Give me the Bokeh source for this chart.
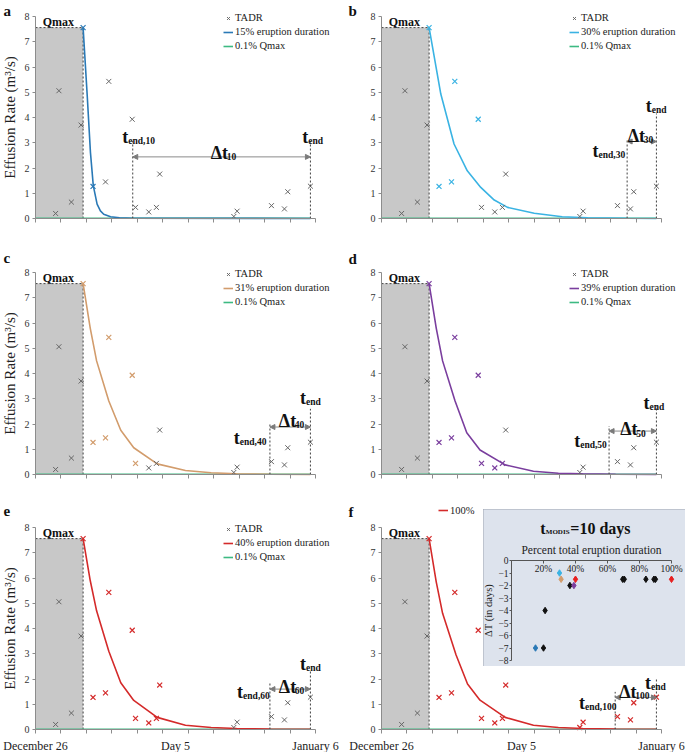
from bokeh.plotting import figure
from bokeh.models import (Range1d, FixedTicker, Legend, LegendItem, Label, LabelSet,
                          Arrow, NormalHead, GridBox, ColumnDataSource)
from bokeh.embed import file_html
from bokeh.resources import INLINE

FONT = "Liberation Serif"

# ---------------- data ----------------
day_ticks = list(range(12))
date_tick_pos = [0, 5.5, 11]
date_tick_labels = ["December 26", "Day 5", "January 6"]
rate_ticks = [0, 1, 2, 3, 4, 5, 6, 7, 8]

# TADR measurements (days since December 26, m3/s)
tadr_day = [0.79, 0.92, 1.41, 1.79, 1.87, 2.26, 2.75, 2.88, 3.80, 3.93, 4.45, 4.75,
            4.88, 7.79, 7.92, 9.27, 9.78, 9.91, 10.80]
tadr_val = [0.20, 5.06, 0.65, 3.70, 7.56, 1.27, 1.45, 5.43, 3.93, 0.44, 0.26, 0.44,
            1.76, 0.08, 0.29, 0.51, 0.38, 1.06, 1.28]
PEAK = 4

qmin_day = [0.0, 10.80]
qmin_val = [0.0076, 0.0076]
t_end = 10.80

panel_keys = ["a", "b", "c", "d", "e", "f"]
duration_pct = ["15%", "30%", "31%", "39%", "40%", "100%"]
t_modis = ["10", "30", "40", "50", "60", "100"]
t_end_k = [3.82, 9.65, 9.21, 8.94, 9.21, 9.18]
highlight_end = [6, 9, 10, 12, 13, 19]

fit_a_day = [1.87, 2.03, 2.16, 2.27, 2.42, 2.55, 2.68, 2.95, 3.30, 3.82, 10.80]
fit_a_val = [7.56, 4.90, 2.60, 1.30, 0.57, 0.30, 0.17, 0.07, 0.03, 0.01, 0.0]
fit_b_day = [1.87, 2.33, 2.85, 3.37, 3.90, 4.43, 4.95, 6.00, 7.10, 8.10, 9.65, 10.80]
fit_b_val = [7.56, 4.93, 2.95, 1.89, 1.23, 0.73, 0.44, 0.21, 0.07, 0.03, 0.01, 0.0]
fit_c_day = [1.87, 2.15, 2.40, 2.88, 3.35, 3.86, 4.78, 5.89, 6.90, 7.90, 9.20, 10.80]
fit_c_val = [7.56, 5.80, 4.50, 2.91, 1.75, 1.06, 0.42, 0.16, 0.07, 0.03, 0.01, 0.0]
fit_d_day = [1.87, 2.15, 2.40, 2.89, 3.35, 3.87, 4.86, 5.97, 6.95, 7.90, 9.20, 10.80]
fit_d_val = [7.56, 5.80, 4.50, 2.91, 1.65, 0.97, 0.38, 0.13, 0.05, 0.03, 0.01, 0.0]
fit_e_day = [1.87, 2.15, 2.40, 2.88, 3.35, 3.86, 4.78, 5.89, 6.90, 7.90, 9.20, 10.80]
fit_e_val = [7.56, 5.90, 4.70, 3.10, 1.85, 1.15, 0.48, 0.17, 0.08, 0.04, 0.02, 0.01]
fit_f_day = [1.87, 2.15, 2.40, 2.93, 3.38, 3.87, 4.86, 5.97, 6.95, 7.90, 9.20, 10.80]
fit_f_val = [7.56, 5.85, 4.60, 2.95, 1.80, 1.16, 0.48, 0.17, 0.08, 0.04, 0.02, 0.01]
fit_days = [fit_a_day, fit_b_day, fit_c_day, fit_d_day, fit_e_day, fit_f_day]
fit_vals = [fit_a_val, fit_b_val, fit_c_val, fit_d_val, fit_e_val, fit_f_val]

# inset: delta T vs percent of total eruption duration
inset_pct_ticks = [0, 20, 40, 60, 80, 100]
inset_pct_labels = ["20%", "40%", "60%", "80%", "100%"]
inset_dt_ticks = [0, -1, -2, -3, -4, -5, -6, -7, -8]
fit_pct = [15, 30, 31, 39, 40, 100]
fit_dt = [-7, -1, -1.5, -2, -1.5, -1.5]
other_pct = [20, 21, 36.5, 69.5, 70.5, 84, 89, 90]
other_dt = [-7, -4, -2, -1.5, -1.5, -1.5, -1.5, -1.5]

# ---------------- styles / layout ----------------
PANEL_COLOR = ["#2a79b6", "#3ab3e3", "#d29c6c", "#7a3e9e", "#d42a2a", "#d42a2a"]
INSET_COLOR = ["#2a79b6", "#3ab3e3", "#d29c6c", "#7a3e9e", "#e82020", "#e82020"]
GREEN = "#3dba82"
GRAY_X = "#666666"
DASH_C = "#404040"
AXIS_C = "#8c8c8c"
INSET_BG = "#dde3ed"

FRAME_W, FRAME_H = 280, 202
ROW_H = [245, 255, 252]
B_TOP = [16, 27, 27]
COL_W = [345, 340]
B_LEFT = [35, 36]
SX = FRAME_W / 11.0
SY = FRAME_H / 8.0
LETTER_X = [-1.26, -1.3]

# per panel annotation positions (data coordinates)
ANN = [
    dict(tk_top=3.07, te_top=3.07, arrow_y=2.44, lk=(3.41, 3.21), le=(10.48, 3.21), ld=(6.88, 2.61), ly=8.20),
    dict(tk_top=3.17, te_top=4.16, arrow_y=3.05, lk=(8.29, 2.68), le=(10.38, 4.46), ld=(9.67, 3.27), ly=8.22),
    dict(tk_top=2.05, te_top=2.60, arrow_y=1.88, lk=(7.79, 1.45), le=(10.39, 3.04), ld=(9.56, 2.12), ly=8.58),
    dict(tk_top=1.92, te_top=2.71, arrow_y=1.72, lk=(7.57, 1.32), le=(10.29, 2.84), ld=(9.38, 1.79), ly=8.55),
    dict(tk_top=1.89, te_top=2.35, arrow_y=1.60, lk=(7.92, 1.49), le=(10.39, 2.61), ld=(9.56, 1.69), ly=8.66),
    dict(tk_top=1.49, te_top=2.02, arrow_y=1.27, lk=(7.76, 1.03), le=(10.35, 1.85), ld=(9.34, 1.49), ly=8.62),
]


def txt(p, x, y, text, size, bold=False, **kw):
    p.add_layout(Label(x=x, y=y, text=text, text_font=FONT, text_font_size=f"{size}px",
                       text_font_style="bold" if bold else "normal", text_color="#111111",
                       text_baseline=kw.pop("baseline", "alphabetic"),
                       text_align=kw.pop("align", "left"), **kw))


def sub_label(p, x, y, main, sub, main_w, main_size=18, sub_size=9.5, drop=4):
    txt(p, x, y, main, main_size, bold=True)
    txt(p, x, y, sub, sub_size, bold=True, x_offset=main_w, y_offset=-drop)


def make_panel(i):
    row, col = i // 2, i % 2
    a = ANN[i]
    color = PANEL_COLOR[i]
    W, H = COL_W[col], ROW_H[row]
    bl, bt = B_LEFT[col], B_TOP[row]
    br, bb = W - bl - FRAME_W, H - bt - FRAME_H
    p = figure(width=W, height=H,
               x_range=Range1d(-bl / SX, 11 + br / SX), y_range=Range1d(-bb / SY, 8 + bt / SY),
               output_backend="svg", toolbar_location=None, title=None, min_border=0)
    p.grid.visible = False
    p.outline_line_color = None

    px, py = tadr_day[PEAK], tadr_val[PEAK]
    p.quad(left=[0], right=[px], bottom=[0], top=[py], fill_color="#c8c8c8", line_color=None)
    p.segment(x0=[0, px], y0=[py, 0], x1=[px, px], y1=[py, py], line_color=DASH_C,
              line_dash="2 2", line_width=1)

    r_green = p.line(qmin_day, qmin_val, line_color=GREEN, line_width=1.6)
    r_fit = p.line(fit_days[i], fit_vals[i], line_color=color, line_width=1.6)

    hi = list(range(PEAK, highlight_end[i]))
    lo = [k for k in range(len(tadr_day)) if k not in hi]
    r_gray = p.scatter([tadr_day[k] for k in lo], [tadr_val[k] for k in lo], marker="x",
                       size=7, line_color=GRAY_X, line_width=1)
    p.scatter([tadr_day[k] for k in hi], [tadr_val[k] for k in hi], marker="x",
              size=7, line_color=color, line_width=1.2)

    # t_end lines and arrow
    p.segment(x0=[t_end_k[i], t_end], y0=[0, 0], x1=[t_end_k[i], t_end], y1=[a["tk_top"], a["te_top"]],
              line_color=DASH_C, line_dash="2 2", line_width=1)
    p.add_layout(Arrow(x_start=t_end_k[i], y_start=a["arrow_y"], x_end=t_end, y_end=a["arrow_y"],
                       start=NormalHead(size=5, fill_color="#7a7a7a", line_color="#7a7a7a"),
                       end=NormalHead(size=5, fill_color="#7a7a7a", line_color="#7a7a7a"),
                       line_color="#8a8a8a", line_width=1))

    sub_label(p, a["lk"][0], a["lk"][1], "t", "end," + t_modis[i], 6)
    sub_label(p, a["le"][0], a["le"][1], "t", "end", 6)
    sub_label(p, a["ld"][0], a["ld"][1], "\u0394t", t_modis[i], 16)
    txt(p, 0.28, 7.78, "Qmax", 12, bold=True)
    txt(p, LETTER_X[col], a["ly"], panel_keys[i], 15, bold=True)

    # axes (fixed at the data origin, bounded to the data extent)
    ya = p.yaxis[0]
    ya.fixed_location = 0
    ya.bounds = (0, 8)
    ya.ticker = FixedTicker(ticks=rate_ticks)
    ya.major_label_text_font = FONT
    ya.major_label_text_font_size = "10px"
    ya.major_label_text_color = "#333333"
    ya.major_label_standoff = 3
    ya.axis_line_color = AXIS_C
    ya.major_tick_line_color = AXIS_C
    ya.major_tick_out = 3
    ya.major_tick_in = 0
    ya.minor_tick_line_color = None
    if col == 0:
        ya.axis_label = "Effusion Rate (m\u00b3/s)"
        ya.axis_label_text_font = FONT
        ya.axis_label_text_font_style = "normal"
        ya.axis_label_text_font_size = "15px"
        ya.axis_label_text_color = "#222222"
        ya.axis_label_standoff = 4

    xa = p.xaxis[0]
    xa.fixed_location = 0
    xa.bounds = (0, 11)
    if row == 2:
        xa.ticker = FixedTicker(ticks=date_tick_pos, minor_ticks=day_ticks)
        xa.major_label_overrides = dict(zip(date_tick_pos, date_tick_labels))
    else:
        xa.ticker = FixedTicker(ticks=[], minor_ticks=day_ticks)
    xa.major_label_text_font = FONT
    xa.major_label_text_font_size = "12px"
    xa.major_label_text_color = "#222222"
    xa.major_label_standoff = 5
    xa.axis_line_color = AXIS_C
    xa.major_tick_out = 0
    xa.major_tick_in = 0
    xa.minor_tick_out = 4
    xa.minor_tick_in = 0
    xa.minor_tick_line_color = AXIS_C

    leg_kw = dict(label_text_font=FONT, label_text_font_size="10.5px", label_text_color="#222222",
                  glyph_width=10, glyph_height=14, label_height=14, label_standoff=2,
                  padding=0, spacing=0, margin=0, border_line_color=None,
                  background_fill_alpha=0)
    if i < 5:
        items = [LegendItem(label="TADR", renderers=[r_gray]),
                 LegendItem(label=duration_pct[i] + " eruption duration", renderers=[r_fit]),
                 LegendItem(label="0.1% Qmax", renderers=[r_green])]
        p.add_layout(Legend(items=items, location=(bl + 188, H - (bt - 5.4 + 42)), **leg_kw))
    else:
        items = [LegendItem(label=duration_pct[i], renderers=[r_fit])]
        p.add_layout(Legend(items=items, location=(bl + 57, H - (bt - 23.6 + 14)), **leg_kw))
    return p


figs = [make_panel(i) for i in range(6)]

# ---------------- inset ----------------
IW, IH = 202, 157
I_L, I_R, I_T, I_B = 28, 14, 51, 6
isx = (IW - I_L - I_R) / 100.0
isy = (IH - I_T - I_B) / 8.0
ins = figure(width=IW, height=IH,
             x_range=Range1d(-I_L / isx, 100 + I_R / isx), y_range=Range1d(-8 - I_B / isy, I_T / isy),
             x_axis_location="above", output_backend="svg", toolbar_location=None, title=None,
             min_border=0, background_fill_color=INSET_BG, border_fill_color=INSET_BG,
             outline_line_color=None)
ins.styles = {"outline": "1px solid #9ea5b0", "outline-offset": "-1px"}
ins.grid.visible = False
ixa = ins.xaxis[0]
ixa.fixed_location = 0
ixa.bounds = (0, 100)
ixa.ticker = FixedTicker(ticks=inset_pct_ticks)
ixa.major_label_overrides = {t: "" for t in inset_pct_ticks}
ixa.major_label_standoff = 0
ixa.major_tick_out = 0
ixa.major_tick_in = 3
ixa.axis_line_color = "#555555"
ixa.major_tick_line_color = "#555555"
ixa.axis_label = "Percent total eruption duration"
ixa.axis_label_text_font = FONT
ixa.axis_label_text_font_style = "normal"
ixa.axis_label_text_font_size = "11.5px"
ixa.axis_label_text_color = "#222222"
ixa.axis_label_standoff = 5
iya = ins.yaxis[0]
iya.fixed_location = 0
iya.bounds = (-8, 0)
iya.ticker = FixedTicker(ticks=inset_dt_ticks)
iya.major_label_text_font = FONT
iya.major_label_text_font_size = "9.5px"
iya.major_label_text_color = "#222222"
iya.major_label_standoff = 1
iya.major_tick_out = 2
iya.major_tick_in = 0
iya.axis_line_color = "#555555"
iya.major_tick_line_color = "#555555"
iya.minor_tick_line_color = None
iya.axis_label = "\u0394T (in days)"
iya.axis_label_text_font = FONT
iya.axis_label_text_font_style = "normal"
iya.axis_label_text_font_size = "10.5px"
iya.axis_label_text_color = "#222222"
iya.axis_label_standoff = 1

tick_src = ColumnDataSource(dict(x=inset_pct_ticks[1:], y=[inset_dt_ticks[0]] * 5, text=inset_pct_labels))
ins.add_layout(LabelSet(x="x", y="y", text="text", source=tick_src, y_offset=-3,
                        text_baseline="top", text_align="center", text_font=FONT,
                        text_font_size="9.5px", text_color="#222222"))
ins.scatter(other_pct, other_dt, marker="diamond", size=6.5, color="#111111")
ins.scatter(fit_pct, fit_dt, marker="diamond", size=6.5, color=INSET_COLOR)

txt(ins, 18.0, 2.54, "t", 16, bold=True)
txt(ins, 18.0, 2.54, "MODIS", 7, bold=True, x_offset=5.5, y_offset=-3)
txt(ins, 18.0, 2.54, "=10 days", 16, bold=True, x_offset=30)

grid = GridBox(children=[(figs[0], 0, 0, 1, 1), (figs[1], 0, 1, 1, 2),
                         (figs[2], 1, 0, 1, 1), (figs[3], 1, 1, 1, 2),
                         (figs[4], 2, 0, 3, 1), (figs[5], 2, 1, 3, 2),
                         (ins, 3, 2, 1, 1)],
               rows=["245px", "255px", "9px", "157px", "86px"],
               cols=["345px", "138px", "202px"], spacing=0)

open("out.html", "w").write(file_html(grid, INLINE))
